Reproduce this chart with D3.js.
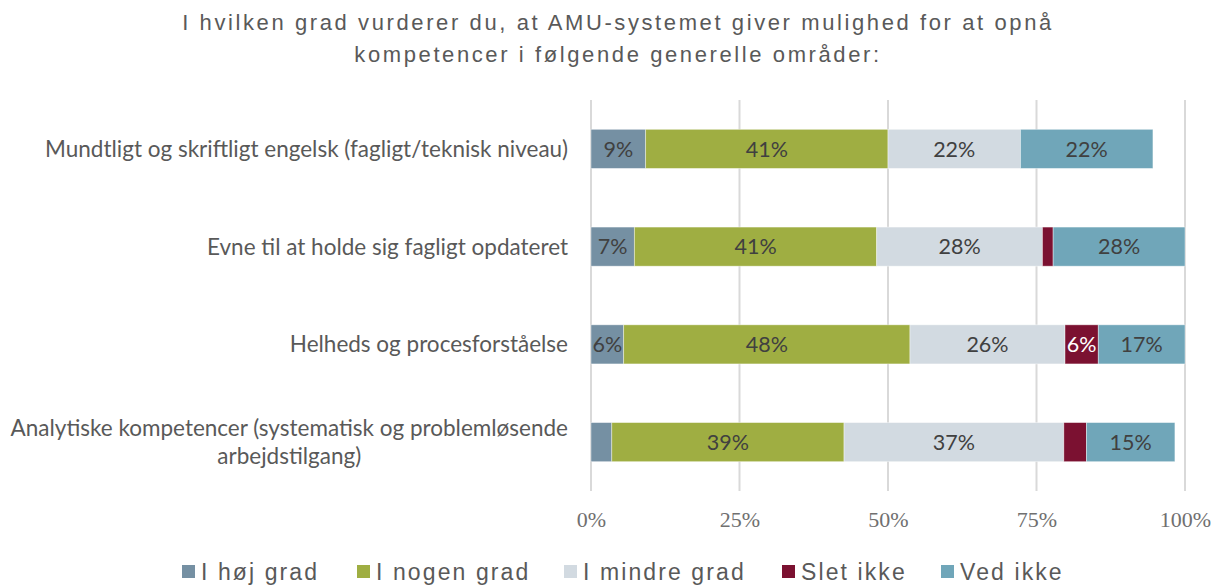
<!DOCTYPE html>
<html>
<head>
<meta charset="utf-8">
<script src="https://cdn.jsdelivr.net/npm/d3@7"></script>
<style>
  body { margin: 0; background: #fff; }
  svg { display: block; }
</style>
</head>
<body>
<div id="chart"></div>
<script>
// data
var categories = [
  ["Mundtligt og skriftligt engelsk (fagligt/teknisk niveau)"],
  ["Evne til at holde sig fagligt opdateret"],
  ["Helheds og procesforståelse"],
  ["Analytiske kompetencer (systematisk og problemløsende", "arbejdstilgang)"]
];
var seriesNames = ["I høj grad", "I nogen grad", "I mindre grad", "Slet ikke", "Ved ikke"];
var seriesColors = ["#7590a3", "#9fae42", "#d2dae1", "#7b1131", "#70a6b9"];
// segment widths (share of respondents) per category, same order as seriesNames
var values = [
  [0.092, 0.408, 0.223, 0.0, 0.223],
  [0.073, 0.408, 0.279, 0.018, 0.222],
  [0.055, 0.482, 0.261, 0.056, 0.146],
  [0.035, 0.391, 0.370, 0.038, 0.149]
];
// printed labels as shown in the chart
var labels = [
  ["9%", "41%", "22%", "", "22%"],
  ["7%", "41%", "28%", "", "28%"],
  ["6%", "48%", "26%", "6%", "17%"],
  ["", "39%", "37%", "", "15%"]
];
var ticks = [0, 0.25, 0.5, 0.75, 1];

var W = 1213, H = 585;
var svg = d3.select('#chart').append('svg')
  .attr('width', W).attr('height', H);

var x = d3.scaleLinear().domain([0, 1]).range([591, 1185]);
var y = d3.scaleBand().domain(d3.range(categories.length)).range([100, 491]).paddingInner(0.6).paddingOuter(0.3);

// title
var title = svg.append('text')
  .attr('text-anchor', 'middle')
  .attr('font-family', 'Liberation Sans, Arial, sans-serif')
  .attr('font-size', 22)
  .attr('letter-spacing', 2.6)
  .attr('fill', '#595959');
title.append('tspan').attr('x', 618).attr('y', 30).text('I hvilken grad vurderer du, at AMU-systemet giver mulighed for at opnå');
title.append('tspan').attr('x', 618).attr('y', 62).text('kompetencer i følgende generelle områder:');

// gridlines
svg.append('g').selectAll('line')
  .data(ticks).join('line')
  .attr('x1', d => x(d)).attr('x2', d => x(d))
  .attr('y1', 100).attr('y2', 491)
  .attr('stroke', '#d9d9d9').attr('stroke-width', 2);

// x axis labels
var xAxis = d3.axisBottom(x).tickValues(ticks).tickFormat(d3.format('.0%')).tickSize(0).tickPadding(0);
var gx = svg.append('g').attr('transform', 'translate(0,527)').call(xAxis);
gx.select('.domain').remove();
gx.selectAll('text')
  .attr('dy', 0)
  .attr('font-family', 'Liberation Serif, Times New Roman, serif')
  .attr('font-size', 22)
  .attr('fill', '#707070');

// stacked bars
var rows = values.map(function(v, i) {
  var acc = 0;
  return v.map(function(d, j) {
    var s = {row: i, k: j, x0: acc, x1: acc + d, label: labels[i][j]};
    acc += d;
    return s;
  });
});
var segs = rows.flat();

svg.append('g').selectAll('rect')
  .data(segs.filter(d => d.x1 > d.x0)).join('rect')
  .attr('x', d => x(d.x0))
  .attr('y', d => y(d.row))
  .attr('width', d => x(d.x1) - x(d.x0))
  .attr('height', y.bandwidth())
  .attr('fill', d => seriesColors[d.k])
  .attr('stroke', '#fff').attr('stroke-opacity', 0.5).attr('stroke-width', 0.8);

svg.append('g').selectAll('text')
  .data(segs.filter(d => d.label)).join('text')
  .attr('x', d => (x(d.x0) + x(d.x1)) / 2)
  .attr('y', d => y(d.row) + y.bandwidth() / 2)
  .attr('dy', '0.36em')
  .attr('text-anchor', 'middle')
  .attr('font-family', 'Lato, Carlito, Calibri, sans-serif')
  .attr('font-size', 21.5)
  .attr('fill', d => d.k === 3 ? '#fff' : '#404040')
  .text(d => d.label);

// category labels
var catG = svg.append('g');
categories.forEach(function(lines, i) {
  var cy = y(i) + y.bandwidth() / 2;
  var t = catG.append('text')
    .attr('font-family', 'Lato, Carlito, Calibri, sans-serif')
    .attr('font-size', 22.5)
    .attr('fill', '#595959');
  var n = lines.length;
  lines.forEach(function(l, k) {
    t.append('tspan').attr('y', cy + (k - (n - 1) / 2) * 28).attr('dy', '0.36em').text(l);
  });
  // right align block, center lines within block
  var widths = [];
  t.selectAll('tspan').each(function() { widths.push(this.getComputedTextLength()); });
  var maxW = d3.max(widths);
  t.attr('text-anchor', 'middle');
  t.selectAll('tspan').attr('x', 568 - maxW / 2);
});

// legend
var legX = [182, 357, 564, 782, 941];
var leg = svg.append('g').selectAll('g')
  .data(seriesNames).join('g')
  .attr('transform', (d, i) => 'translate(' + legX[i] + ',572)');
leg.append('rect')
  .attr('x', 0).attr('y', -7).attr('width', 13).attr('height', 13)
  .attr('fill', (d, i) => seriesColors[i]);
leg.append('text')
  .attr('x', 19).attr('y', 8)
  .attr('font-family', 'Liberation Sans, Arial, sans-serif')
  .attr('font-size', 23)
  .attr('letter-spacing', 2.1)
  .attr('fill', '#595959')
  .text(d => d);
</script>
</body>
</html>
